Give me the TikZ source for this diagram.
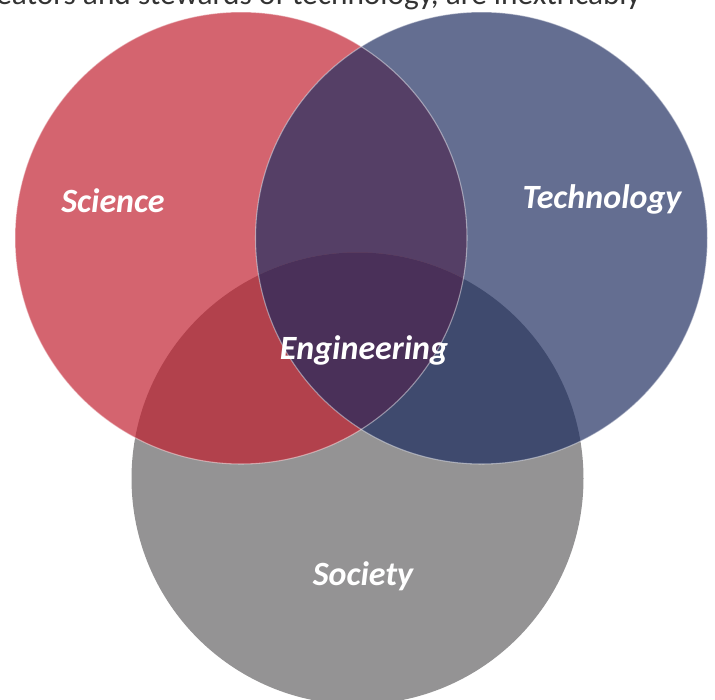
\documentclass[tikz,border=0pt]{standalone}
\usepackage{fontspec}
\setmainfont{Carlito}
\begin{document}
\begin{tikzpicture}[x=0.75pt,y=-0.75pt,
  setlabel/.style={text=white,font=\fontsize{25.5}{29}\selectfont\bfseries\itshape,inner sep=0pt},
  rim/.style={draw=white,draw opacity=0.45,line width=0.8pt}]
\definecolor{sciC}{HTML}{D4646F}
\definecolor{tecC}{HTML}{646E91}
\definecolor{socC}{HTML}{949394}
\definecolor{stC}{HTML}{553F66}
\definecolor{ssC}{HTML}{B2414C}
\definecolor{tsC}{HTML}{3F4A6E}
\definecolor{allC}{HTML}{4A3059}
\definecolor{bodyC}{HTML}{333333}
\useasboundingbox (0,0) rectangle (715,700);
\def\rad{169.5pt}
\coordinate (sciO) at (241,238);
\coordinate (tecO) at (481.5,238);
\coordinate (socO) at (357.5,478.5);
% line of running text above the diagram
\node[anchor=base west,inner sep=0pt,text=bodyC,font=\fontsize{23.5}{28}\selectfont] (bodyline) at (-4,4.5)
  {eators and stewards of technology, are inextricably};
% base discs
\fill[socC] (socO) circle[radius=\rad];
\fill[sciC] (sciO) circle[radius=\rad];
\fill[tecC] (tecO) circle[radius=\rad];
% pairwise overlaps
\begin{scope}
  \clip (sciO) circle[radius=\rad];
  \fill[stC] (tecO) circle[radius=\rad];
  \fill[ssC] (socO) circle[radius=\rad];
\end{scope}
\begin{scope}
  \clip (tecO) circle[radius=\rad];
  \fill[tsC] (socO) circle[radius=\rad];
\end{scope}
% central overlap
\begin{scope}
  \clip (sciO) circle[radius=\rad];
  \clip (tecO) circle[radius=\rad];
  \fill[allC] (socO) circle[radius=\rad];
\end{scope}
% thin light rims
\path[rim] (sciO) circle[radius=\rad];
\path[rim] (tecO) circle[radius=\rad];
% labels
\node[setlabel] (science) at (113,201) {Science};
\node[setlabel] (technology) at (602,199) {Technology};
\node[setlabel] (engineering) at (364,350) {Engineering};
\node[setlabel] (society) at (363,576) {Society};
\end{tikzpicture}
\end{document}
